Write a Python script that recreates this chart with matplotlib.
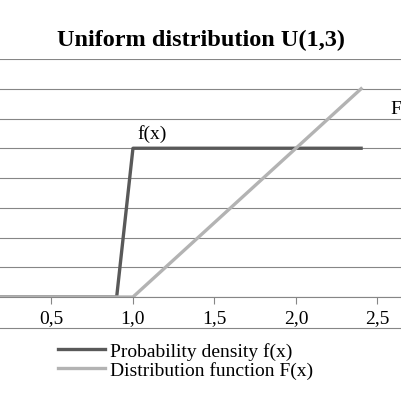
import matplotlib
matplotlib.use("Agg")
import matplotlib.pyplot as plt

plt.rcParams['font.family'] = ['Liberation Serif', 'DejaVu Serif']

# values
x_pdf = [0.0, 0.9, 1.0, 2.4]
f_pdf = [0.0, 0.0, 0.5, 0.5]
x_cdf = [0.0, 1.0, 2.4]
F_cdf = [0.0, 0.0, 0.7]
xticks = [0.5, 1.0, 1.5, 2.0, 2.5]
yticks = [0.1 * i for i in range(9)]

W = 402
fig = plt.figure(figsize=(4.02, 4.02), dpi=100)
# plot area is cropped on both sides in the reference
left_px, right_px, top_px, bot_px = -30, 410, 60, 298
ax = fig.add_axes([left_px / W, 1 - bot_px / W, (right_px - left_px) / W, (bot_px - top_px) / W])
ax.set_xlim(0, 2.7)
ax.set_ylim(0, 0.8)

ax.plot(x_pdf, f_pdf, color='#595959', lw=2.4, label='Probability density f(x)')
ax.plot(x_cdf, F_cdf, color='#b3b3b3', lw=2.4, label='Distribution function F(x)')

ax.set_yticks(yticks)
ax.yaxis.grid(True, color='#868686', lw=0.8)
ax.tick_params(axis='y', left=False, labelleft=False)
ax.set_xticks(xticks)
ax.set_xticklabels([f"{t:.1f}".replace('.', ',') for t in xticks], fontsize=14)
ax.tick_params(axis='x', length=5, color='#868686', pad=4)
for s in ['top', 'right', 'left']:
    ax.spines[s].set_visible(False)
ax.spines['bottom'].set_color('#868686')

ax.text(1.03, 0.535, 'f(x)', fontsize=14)
ax.text(2.58, 0.62, 'F(X)', fontsize=14)

# thin border line under the tick labels
fig.add_artist(plt.Line2D([0, 1], [1 - 329 / W, 1 - 329 / W], color='#868686', lw=0.8))

fig.text(0.5, 1 - 40 / W, 'Uniform distribution U(1,3)', ha='center', va='center',
         fontsize=17.5, fontweight='bold')

fig.legend(loc='upper left', bbox_to_anchor=(58 / W, 1 - 343 / W), frameon=False,
           fontsize=14, handlelength=2.4, handletextpad=0.3, labelspacing=0.05,
           borderaxespad=0, borderpad=0)

fig.savefig('out.png', dpi=100)
